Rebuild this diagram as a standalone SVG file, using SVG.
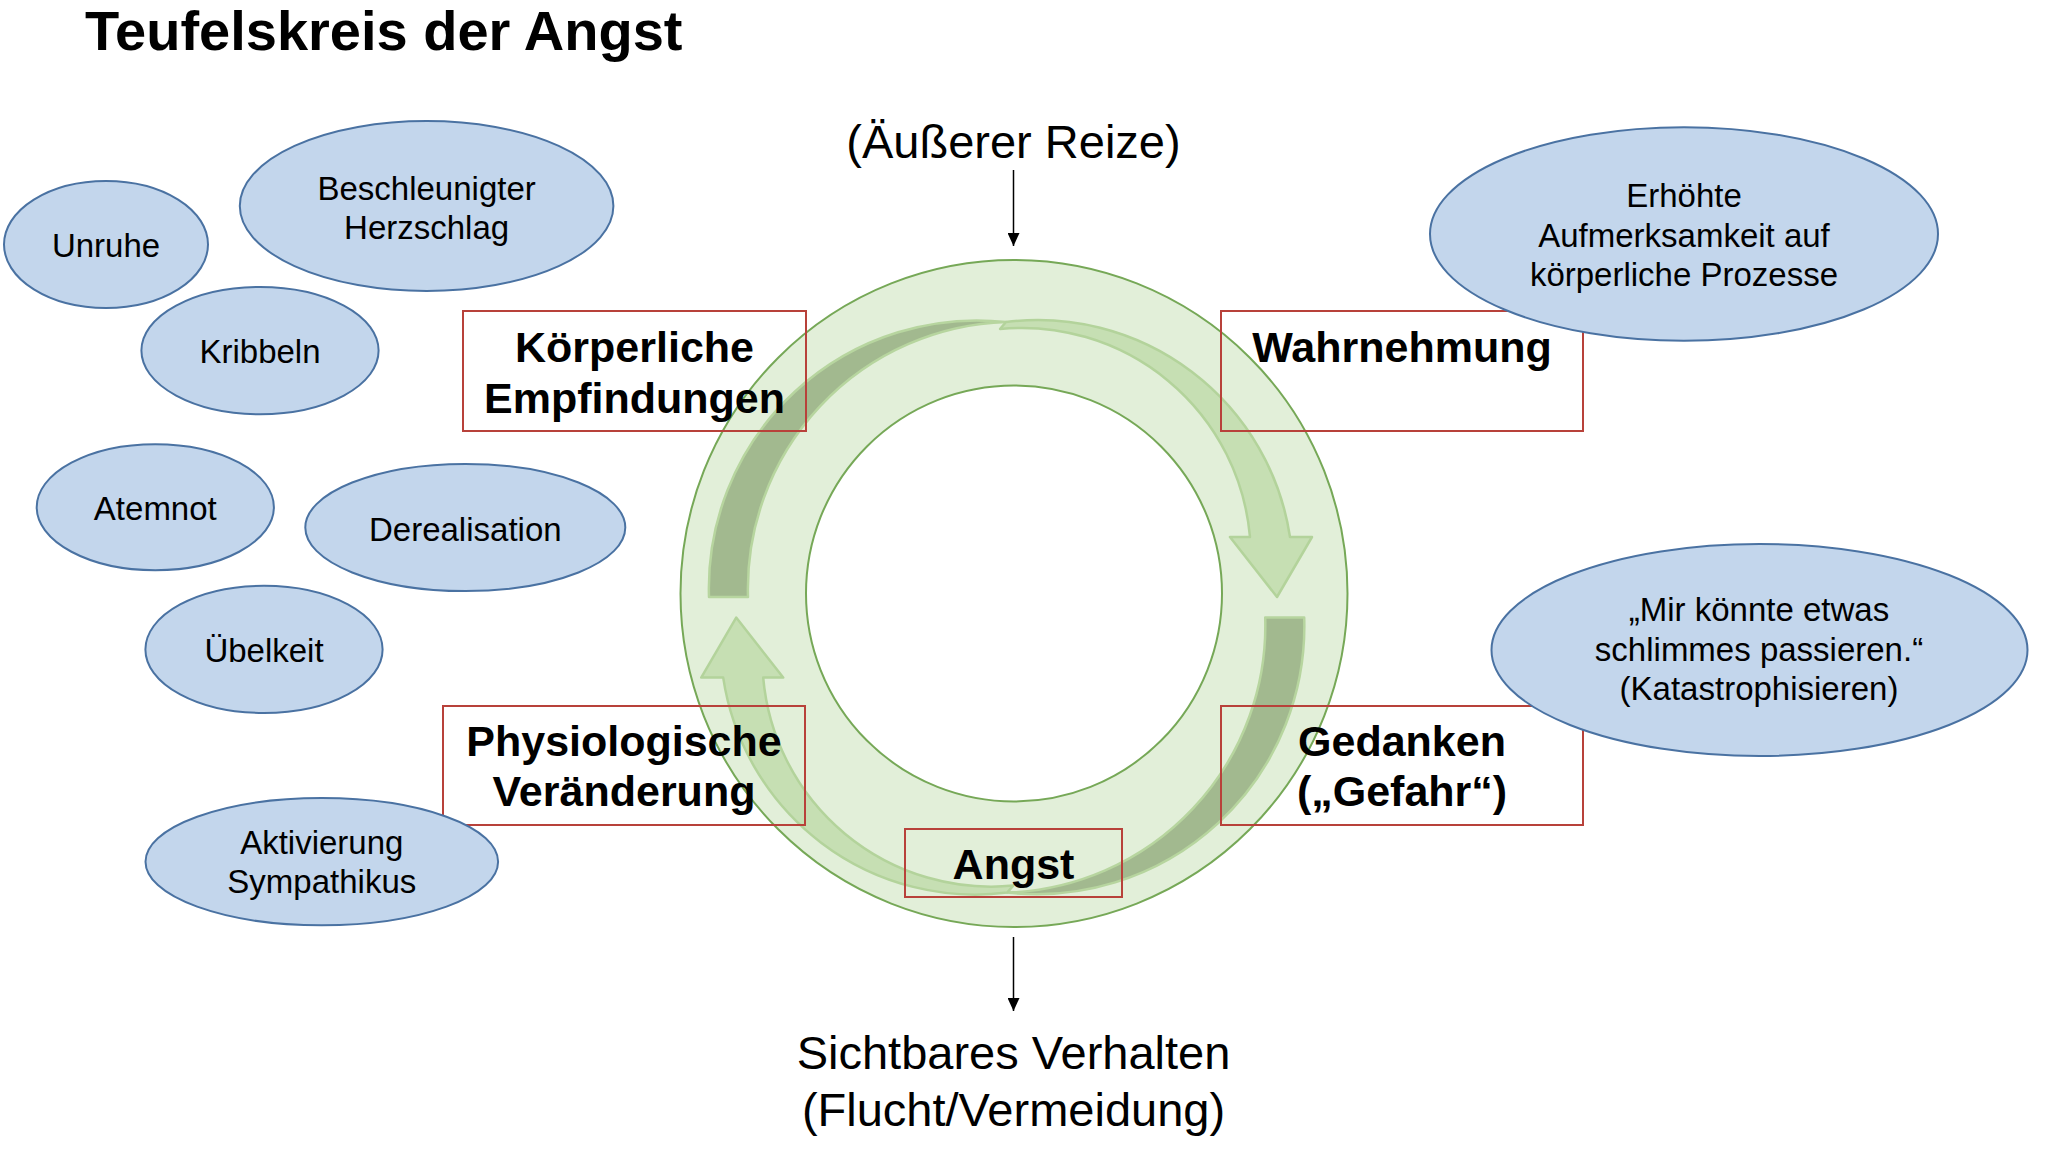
<svg xmlns="http://www.w3.org/2000/svg" width="2055" height="1173" viewBox="0 0 2055 1173">
  <defs>
    <style>
      .t { font-family: "Liberation Sans", Arial, Helvetica, sans-serif; fill: #000; }
      .title { font-size: 56px; font-weight: bold; }
      .big { font-size: 47px; text-anchor: middle; }
      .lbl { font-size: 43px; font-weight: bold; text-anchor: middle; }
      .bt { font-size: 33px; text-anchor: middle; }
      .box { fill: none; stroke: #b8413a; stroke-width: 2; }
      .bub { fill: #c3d6ec; stroke: #4a72a2; stroke-width: 2; }
      .ring { fill: #e2efd9; stroke: #76a857; stroke-width: 2; }
      .hole { fill: #ffffff; stroke: #76a857; stroke-width: 2; }
      .back { fill: #a2b98f; stroke: #b7d59f; stroke-width: 2.5; stroke-linejoin: round; }
      .front { fill: #c6dfb3; stroke: #b3d39b; stroke-width: 2.5; stroke-linejoin: round; }
      .conn { stroke: #000; stroke-width: 1.5; fill: none; }
    </style>
    <marker id="ah" viewBox="0 0 13 12" refX="13" refY="6" markerWidth="13" markerHeight="12" markerUnits="userSpaceOnUse" orient="auto">
      <path d="M0,0 L13,6 L0,12 Z" fill="#000"/>
    </marker>
    <!-- curved ribbon arrow: dark back crescent + light front face with head -->
    <g id="curved-arrow">
      <path class="back" d="M709,597 A268,268 0 0 1 1006,322 A267,267 0 0 0 748,597 Z"/>
      <path class="front" d="M1006,322 A255,255 0 0 1 1290,537 L1312,537 L1277,597 L1230,537 L1250,537 A229,229 0 0 0 1000,329 Z"/>
    </g>
  </defs>

  <rect width="2055" height="1173" fill="#ffffff"/>

  <text class="t title" x="85" y="50">Teufelskreis der Angst</text>

  <!-- cycle ring with its two circulating arrows -->
  <g id="cycle">
    <circle class="ring" cx="1014" cy="593.5" r="333.5"/>
    <circle class="hole" cx="1014" cy="593.5" r="208"/>
    <use href="#curved-arrow"/>
    <use href="#curved-arrow" transform="rotate(180 1006.6 607.3)"/>
  </g>

  <!-- stages of the cycle -->
  <g id="koerperliche-empfindungen">
    <rect class="box" x="463" y="311" width="343" height="120"/>
    <text class="t lbl" x="634.5" y="362">Körperliche</text>
    <text class="t lbl" x="634.5" y="413">Empfindungen</text>
  </g>
  <g id="wahrnehmung">
    <rect class="box" x="1221" y="311" width="362" height="120"/>
    <text class="t lbl" x="1402" y="362">Wahrnehmung</text>
  </g>
  <g id="physiologische-veraenderung">
    <rect class="box" x="443" y="706" width="362" height="119"/>
    <text class="t lbl" x="624" y="756">Physiologische</text>
    <text class="t lbl" x="624" y="806">Veränderung</text>
  </g>
  <g id="gedanken">
    <rect class="box" x="1221" y="706" width="362" height="119"/>
    <text class="t lbl" x="1402" y="756">Gedanken</text>
    <text class="t lbl" x="1402" y="806">(„Gefahr“)</text>
  </g>
  <g id="angst">
    <rect class="box" x="905" y="829" width="217" height="68"/>
    <text class="t lbl" x="1013.5" y="879">Angst</text>
  </g>

  <!-- symptom bubbles -->
  <g id="unruhe">
    <ellipse class="bub" cx="106" cy="244.5" rx="102" ry="63.5"/>
    <text class="t bt" x="106" y="257">Unruhe</text>
  </g>
  <g id="herzschlag">
    <ellipse class="bub" cx="426.6" cy="206" rx="186.8" ry="85"/>
    <text class="t bt" x="426.6" y="200">Beschleunigter</text>
    <text class="t bt" x="426.6" y="239">Herzschlag</text>
  </g>
  <g id="kribbeln">
    <ellipse class="bub" cx="260" cy="350.6" rx="118.6" ry="63.6"/>
    <text class="t bt" x="260" y="363">Kribbeln</text>
  </g>
  <g id="atemnot">
    <ellipse class="bub" cx="155.3" cy="507.2" rx="118.6" ry="63"/>
    <text class="t bt" x="155.3" y="520">Atemnot</text>
  </g>
  <g id="derealisation">
    <ellipse class="bub" cx="465.3" cy="527.5" rx="160" ry="63.6"/>
    <text class="t bt" x="465.3" y="541">Derealisation</text>
  </g>
  <g id="uebelkeit">
    <ellipse class="bub" cx="264" cy="649.4" rx="118.6" ry="63.6"/>
    <text class="t bt" x="264" y="662">Übelkeit</text>
  </g>
  <g id="sympathikus">
    <ellipse class="bub" cx="321.8" cy="861.7" rx="176.3" ry="63.6"/>
    <text class="t bt" x="321.8" y="854">Aktivierung</text>
    <text class="t bt" x="321.8" y="893">Sympathikus</text>
  </g>
  <g id="aufmerksamkeit">
    <ellipse class="bub" cx="1684" cy="234" rx="254" ry="106.8"/>
    <text class="t bt" x="1684" y="207">Erhöhte</text>
    <text class="t bt" x="1684" y="246.5">Aufmerksamkeit auf</text>
    <text class="t bt" x="1684" y="286">körperliche Prozesse</text>
  </g>
  <g id="katastrophisieren">
    <ellipse class="bub" cx="1759.5" cy="650" rx="268" ry="106"/>
    <text class="t bt" x="1759" y="621">„Mir könnte etwas</text>
    <text class="t bt" x="1759" y="660.5">schlimmes passieren.“</text>
    <text class="t bt" x="1759" y="700">(Katastrophisieren)</text>
  </g>

  <!-- input and output of the cycle -->
  <g id="reize">
    <text class="t big" x="1013.5" y="158">(Äußerer Reize)</text>
  </g>
  <g id="verhalten">
    <text class="t big" x="1013.5" y="1069">Sichtbares Verhalten</text>
    <text class="t big" x="1013.5" y="1126">(Flucht/Vermeidung)</text>
  </g>

  <g id="connectors">
    <line class="conn" x1="1013.5" y1="170" x2="1013.5" y2="246" marker-end="url(#ah)"/>
    <line class="conn" x1="1013.5" y1="937" x2="1013.5" y2="1011" marker-end="url(#ah)"/>
  </g>
</svg>
